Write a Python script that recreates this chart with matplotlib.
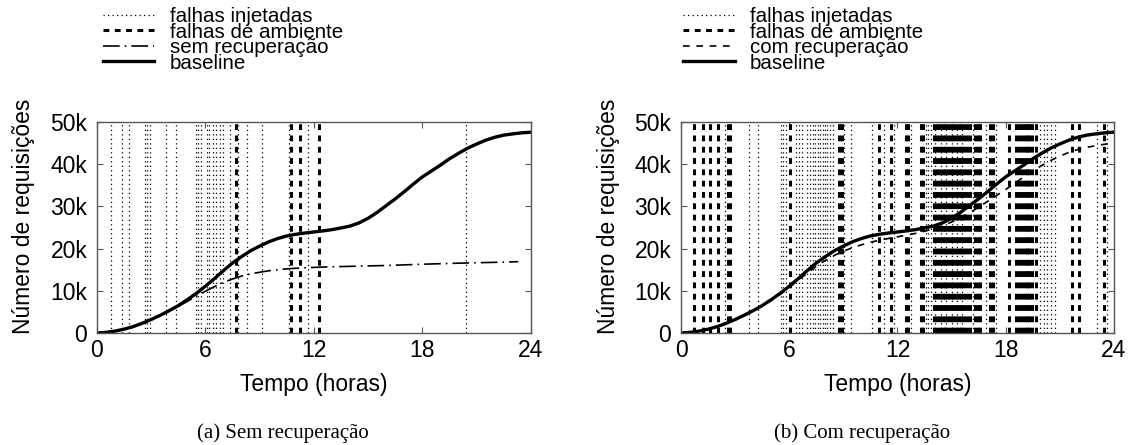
import matplotlib
matplotlib.use("Agg")
import matplotlib.pyplot as plt
from matplotlib import font_manager

# ---- data ----
hours = [0, 0.5, 1, 1.5, 2, 2.5, 3, 3.5, 4, 4.5, 5, 5.5, 6, 6.5, 7, 7.5, 8, 8.5, 9, 9.5,
         10, 10.5, 11, 11.5, 12, 12.5, 13, 13.5, 14, 14.5, 15, 15.5, 16, 16.5, 17, 17.5,
         18, 18.5, 19, 19.5, 20, 20.5, 21, 21.5, 22, 22.5, 23, 23.5, 24]
baseline = [0, 150, 450, 900, 1500, 2300, 3200, 4200, 5300, 6500, 7900, 9400, 11100,
            12900, 14800, 16600, 18100, 19500, 20600, 21600, 22400, 23000, 23400, 23700,
            23950, 24200, 24500, 24900, 25350, 26100, 27200, 28600, 30200, 31800, 33500,
            35300, 37000, 38400, 39800, 41300, 42600, 43800, 44800, 45700, 46400, 46900,
            47200, 47450, 47600]

sem_hours = [0, 0.5, 1, 1.5, 2, 2.5, 3, 3.5, 4, 4.5, 5, 5.5, 6, 6.5, 7, 7.5, 8, 8.5, 9,
             9.5, 10, 10.5, 11, 11.5, 12, 13, 14, 16, 18, 20, 22, 23.3]
sem_recuperacao = [0, 150, 450, 900, 1500, 2300, 3200, 4200, 5200, 6300, 7500, 8700, 9900,
                   11000, 12000, 12800, 13500, 14000, 14400, 14750, 15000, 15200, 15350,
                   15450, 15550, 15700, 15800, 16000, 16300, 16550, 16750, 16900]

com_recuperacao = [0, 150, 450, 880, 1450, 2200, 3100, 4100, 5200, 6400, 7700, 9200, 10800,
                   12500, 14200, 15800, 17200, 18400, 19400, 20200, 20900, 21500, 22000,
                   22400, 22800, 23200, 23600, 24100, 24700, 25400, 26300, 27300, 28500,
                   29800, 31200, 32600, 34000, 35500, 37000, 38400, 39700, 40900, 41900,
                   42800, 43500, 44000, 44400, 44750, 45000]

# fault times (hours)
inj_a = [0.8, 1.4, 1.77, 2.65, 2.78, 2.93, 3.82, 4.37, 5.48, 5.60, 5.75, 6.06, 6.19, 6.40, 6.58,
         6.80, 6.99, 7.36, 7.81, 8.28, 9.11, 10.62, 11.69, 20.4]
amb_a = [7.69, 10.75, 11.23, 12.3]

inj_b = [2.45, 3.78, 4.24, 5.54, 5.67, 5.81, 6.37, 6.52, 6.70, 7.01, 7.15, 7.29, 7.43, 7.57, 7.71,
         7.85, 7.99, 8.12, 8.26, 8.40, 9.04, 9.41, 10.61, 11.26, 11.81, 12.74, 13.57, 13.69, 13.84,
         14.1, 14.4, 14.7, 15.0, 15.3, 15.6, 16.2, 16.9, 17.44, 19.93, 20.1, 20.3, 20.5, 20.76,
         23.07, 23.6]
amb_b = [0.74, 1.2, 1.62, 2.03, 2.58, 2.71, 6.03, 8.77, 8.92, 10.98, 11.63, 12.46, 12.59, 13.29,
         13.42, 14.0, 14.2, 14.35, 14.5, 14.65, 14.8, 14.95, 15.1, 15.25, 15.4, 15.55, 15.7, 15.85,
         16.0, 16.3, 16.45, 16.6, 17.16, 17.29, 18.18, 18.55, 18.73, 18.92, 19.1, 19.2, 19.3, 19.45,
         19.66, 21.69, 22.05, 23.44]

xticks = [0, 6, 12, 18, 24]
yticks = [0, 10000, 20000, 30000, 40000, 50000]
ytick_labels = ["0", "10k", "20k", "30k", "40k", "50k"]

names = [f.name for f in font_manager.fontManager.ttflist]
narrow = "Liberation Sans Narrow" if "Liberation Sans Narrow" in names else "Liberation Sans"
plt.rcParams["font.family"] = ["Liberation Sans", "DejaVu Sans"]

INJ = dict(color="black", lw=0.9, linestyle=(0, (1, 2.6)))
AMB = dict(color="black", lw=2.2, linestyle=(0, (1.9, 1.8)))


def setup(ax):
    ax.set_xlim(0, 24)
    ax.set_ylim(0, 50000)
    ax.set_xticks(xticks)
    ax.set_xticklabels([str(t) for t in xticks], fontfamily=narrow, fontsize=16.5)
    ax.set_yticks(yticks)
    ax.set_yticklabels(ytick_labels, fontsize=16.5)
    ax.tick_params(direction="in", top=True, right=True, length=4, width=0.8,
                   color="#555555")
    ax.tick_params(axis="x", pad=4)
    ax.tick_params(axis="y", pad=7)
    for s in ax.spines.values():
        s.set_color("#555555")
        s.set_linewidth(1.0)
    ax.set_xlabel("Tempo (horas)", fontfamily=narrow, fontsize=16.5, labelpad=8)
    ax.set_ylabel("Número de requisições", fontsize=16.5)
    ax.yaxis.set_label_coords(-0.142, 0.555)


fig = plt.figure(figsize=(11.3, 4.45), dpi=100)
ax1 = fig.add_axes([0.0858, 0.2517, 0.384, 0.474])
ax2 = fig.add_axes([0.6027, 0.2517, 0.383, 0.474])

# (a) sem recuperacao
for i, t in enumerate(inj_a):
    ax1.axvline(t, label="falhas injetadas" if i == 0 else None, **INJ)
for i, t in enumerate(amb_a):
    ax1.axvline(t, label="falhas de ambiente" if i == 0 else None, **AMB)
ax1.plot(sem_hours, sem_recuperacao, color="black", lw=1.2,
         linestyle=(0, (10, 3, 1, 3)), label="sem recuperação")
ax1.plot(hours, baseline, color="black", lw=2.4, label="baseline")
setup(ax1)

# (b) com recuperacao
for i, t in enumerate(inj_b):
    ax2.axvline(t, label="falhas injetadas" if i == 0 else None, **INJ)
for i, t in enumerate(amb_b):
    ax2.axvline(t, label="falhas de ambiente" if i == 0 else None, **AMB)
ax2.plot(hours, com_recuperacao, color="black", lw=1.2,
         linestyle=(0, (4, 4)), label="com recuperação")
ax2.plot(hours, baseline, color="black", lw=2.4, label="baseline")
setup(ax2)

for ax, x0 in ((ax1, 0.014), (ax2, 0.005)):
    ax.legend(loc="upper left", bbox_to_anchor=(x0, 1.545), frameon=False,
              fontsize=14.8, handlelength=2.5, handletextpad=0.75,
              labelspacing=-0.17, borderpad=0, borderaxespad=0)

fig.text(0.25, 0.027, "(a) Sem recuperação", ha="center", va="center",
         fontfamily="Liberation Serif", fontsize=15)
fig.text(0.763, 0.027, "(b) Com recuperação", ha="center", va="center",
         fontfamily="Liberation Serif", fontsize=15)

fig.savefig("out.png", dpi=100)
